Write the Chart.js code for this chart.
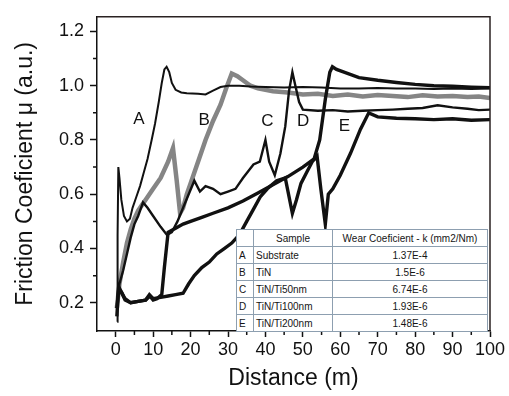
<!DOCTYPE html>
<html>
<head>
<meta charset="utf-8">
<script src="https://cdn.jsdelivr.net/npm/chart.js@4.4.1/dist/chart.umd.min.js"></script>
<style>
  html, body { margin: 0; padding: 0; background: #fff; }
  #wrap { position: relative; width: 509px; height: 396px; }
  #wear {
    position: absolute; left: 236px; top: 229px; width: 252px; height: 100px;
    border-collapse: collapse; background: #fff;
    font: 10px 'Liberation Sans', Arial, sans-serif; color: #151515;
    table-layout: fixed; border: 1px solid #555;
  }
  #wear td { border: 1px solid #8d9fb0; padding: 0 2px; height: 16px; white-space: nowrap; overflow: hidden; }
  #wear td:nth-child(3) { text-align: center; }
  #wear tr:first-child td:nth-child(2) { text-align: center; }
</style>
</head>
<body>
<div id="wrap">
  <canvas id="chart" width="509" height="396"></canvas>
  <table id="wear">
    <colgroup><col style="width:17px"><col style="width:79px"><col></colgroup>
    <tbody id="wearBody"></tbody>
  </table>
</div>
<script>
// Friction curves (distance in m, friction coefficient)
const distA = [0.4, 0.5, 0.7, 1.0, 1.5, 2.2, 3.0, 3.8, 4.5, 5.5, 6.5, 7.5, 8.5, 9.6, 10.5, 11.5, 12.3, 13.0, 13.6, 14.3, 15.0, 16.0, 17.5, 19, 22, 24, 26, 28, 30, 33, 36, 40, 45, 50, 55, 60, 65, 70, 75, 80, 85, 90, 95, 100];
const muA   = [0.13, 0.45, 0.70, 0.66, 0.58, 0.52, 0.50, 0.51, 0.55, 0.59, 0.63, 0.68, 0.73, 0.80, 0.86, 0.94, 1.01, 1.06, 1.07, 1.05, 1.01, 0.985, 0.975, 0.972, 0.97, 0.968, 0.982, 0.995, 1.0, 1.0, 0.997, 0.995, 0.993, 0.995, 0.993, 0.99, 0.99, 0.992, 0.99, 0.99, 0.988, 0.99, 0.988, 0.99];

const distB = [0.3, 1, 2, 3, 4, 5, 6, 7, 8, 10, 12, 14, 15.3, 16.3, 17.2, 18, 19, 20, 22, 24, 26, 28, 29.5, 31, 32.5, 34, 36, 38, 42, 46, 50, 54, 58, 62, 66, 70, 74, 78, 82, 86, 90, 94, 97, 100];
const muB   = [0.18, 0.27, 0.35, 0.42, 0.47, 0.51, 0.54, 0.56, 0.58, 0.62, 0.66, 0.72, 0.77, 0.65, 0.53, 0.55, 0.60, 0.64, 0.72, 0.80, 0.87, 0.93, 0.99, 1.045, 1.035, 1.02, 1.0, 0.99, 0.98, 0.975, 0.968, 0.97, 0.962, 0.968, 0.96, 0.966, 0.962, 0.958, 0.965, 0.96, 0.962, 0.958, 0.96, 0.955];

const distC = [0.5, 1, 2, 3, 4, 5, 6, 7.3, 8.5, 10, 12, 13.7, 15, 16.5, 18, 19.5, 21, 22.5, 24, 26, 28, 30, 32, 34, 36.8, 38.5, 40, 41, 42.5, 44, 45.3, 46.3, 47.2, 48, 49, 50, 54, 58, 62, 66, 70, 74, 78, 82, 86, 90, 94, 97, 100];
const muC   = [0.22, 0.27, 0.32, 0.38, 0.44, 0.49, 0.52, 0.57, 0.55, 0.52, 0.48, 0.45, 0.46, 0.50, 0.55, 0.60, 0.65, 0.61, 0.63, 0.62, 0.60, 0.61, 0.62, 0.66, 0.71, 0.72, 0.80, 0.72, 0.67, 0.75, 0.85, 0.98, 1.05, 1.0, 0.94, 0.912, 0.908, 0.91, 0.905, 0.908, 0.91, 0.912, 0.915, 0.918, 0.928, 0.92, 0.915, 0.91, 0.912];

const distD = [0.3, 0.8, 1.5, 2.5, 4, 6, 8, 9.1, 10, 11, 12.3, 13, 14, 16, 18, 20, 23, 26, 30, 34, 38, 42, 46, 50, 53, 54.5, 56, 57.2, 57.9, 59, 61, 65, 70, 75, 80, 85, 90, 95, 100];
const muD   = [0.18, 0.25, 0.24, 0.21, 0.20, 0.205, 0.21, 0.225, 0.21, 0.215, 0.23, 0.33, 0.46, 0.475, 0.49, 0.50, 0.515, 0.53, 0.55, 0.575, 0.605, 0.635, 0.665, 0.70, 0.73, 0.80, 0.95, 1.05, 1.07, 1.06, 1.05, 1.03, 1.02, 1.012, 1.005, 1.0, 0.998, 0.995, 0.993];

const distE = [0.3, 0.8, 1.5, 2.5, 4, 6, 8, 9, 10, 12, 14, 16, 18, 19.5, 21, 23, 25, 27, 29, 31, 33, 35, 37, 38.6, 40.5, 43, 45.3, 47.2, 48.3, 49.5, 51, 52.5, 53.8, 54.8, 56, 56.8, 58, 60, 62.7, 65.4, 67.6, 70, 75, 80, 85, 90, 95, 100];
const muE   = [0.15, 0.26, 0.24, 0.215, 0.20, 0.205, 0.21, 0.23, 0.215, 0.22, 0.225, 0.23, 0.235, 0.27, 0.30, 0.33, 0.35, 0.38, 0.40, 0.42, 0.45, 0.50, 0.55, 0.59, 0.62, 0.65, 0.66, 0.53, 0.58, 0.64, 0.68, 0.72, 0.74, 0.62, 0.49, 0.60, 0.62, 0.67, 0.75, 0.84, 0.90, 0.885, 0.88, 0.878, 0.875, 0.878, 0.873, 0.875];

// Curve letters placed on the plot
const curveLetters = ['A', 'B', 'C', 'D', 'E'];
const letterX = [6.2, 23.6, 40.5, 50.1, 61.1];
const letterY = [0.877, 0.874, 0.867, 0.867, 0.852];

// Inset table
const sampleIds = ['A', 'B', 'C', 'D', 'E'];
const sampleNames = ['Substrate', 'TiN', 'TiN/Ti50nm', 'TiN/Ti100nm', 'TiN/Ti200nm'];
const wearCoef = ['1.37E-4', '1.5E-6', '6.74E-6', '1.93E-6', '1.48E-6'];

// Axes
const xTickValues = [0, 10, 20, 30, 40, 50, 60, 70, 80, 90, 100];
const xMinorTicks = [5, 15, 25, 35, 45, 55, 65, 75, 85, 95];
const yTickValues = [0.2, 0.4, 0.6, 0.8, 1.0, 1.2];
const yMinorTicks = [0.3, 0.5, 0.7, 0.9, 1.1];

const FONT = "'Liberation Sans', Arial, sans-serif";

function pts(xs, ys) {
  return xs.map((x, i) => ({ x, y: ys[i] }));
}

// table rows
const tbody = document.getElementById('wearBody');
const head = document.createElement('tr');
['', 'Sample', 'Wear Coeficient - k (mm2/Nm)'].forEach(t => {
  const td = document.createElement('td');
  td.textContent = t;
  head.appendChild(td);
});
tbody.appendChild(head);
sampleIds.forEach((id, i) => {
  const tr = document.createElement('tr');
  [id, sampleNames[i], wearCoef[i]].forEach(t => {
    const td = document.createElement('td');
    td.textContent = t;
    tr.appendChild(td);
  });
  tbody.appendChild(tr);
});

const framePlugin = {
  id: 'frame',
  afterDraw(chart) {
    const { ctx, chartArea: a, scales: { x, y } } = chart;
    ctx.save();
    ctx.strokeStyle = '#2a2222';
    ctx.lineWidth = 1.5;
    ctx.beginPath();
    ctx.moveTo(a.left, a.top);
    ctx.lineTo(a.right, a.top);
    ctx.lineTo(a.right, a.bottom);
    ctx.stroke();

    // minor ticks
    ctx.strokeStyle = '#111';
    ctx.lineWidth = 1.5;
    ctx.beginPath();
    xMinorTicks.forEach(v => {
      const px = x.getPixelForValue(v);
      ctx.moveTo(px, a.bottom);
      ctx.lineTo(px, a.bottom + 4);
    });
    yMinorTicks.forEach(v => {
      const py = y.getPixelForValue(v);
      ctx.moveTo(a.left, py);
      ctx.lineTo(a.left - 4, py);
    });
    ctx.stroke();

    // curve letters
    ctx.fillStyle = '#111';
    ctx.font = '17px ' + FONT;
    ctx.textAlign = 'center';
    ctx.textBaseline = 'middle';
    curveLetters.forEach((t, i) => {
      ctx.fillText(t, x.getPixelForValue(letterX[i]), y.getPixelForValue(letterY[i]));
    });
    ctx.restore();
  },
};

const line = (data, color, width, order) => ({
  data,
  borderColor: color,
  borderWidth: width,
  pointRadius: 0,
  tension: 0,
  fill: false,
  order,
});

new Chart(document.getElementById('chart'), {
  type: 'line',
  data: {
    datasets: [
      line(pts(distA, muA), '#111', 2, 0),
      line(pts(distC, muC), '#111', 2.4, 0),
      line(pts(distD, muD), '#111', 3.4, 0),
      line(pts(distE, muE), '#111', 3.4, 0),
      line(pts(distB, muB), '#858585', 4.5, 1),
    ],
  },
  options: {
    responsive: false,
    animation: false,
    layout: { padding: { left: 0, top: 8, right: 19, bottom: 0 } },
    plugins: { legend: { display: false }, tooltip: { enabled: false } },
    scales: {
      x: {
        type: 'linear',
        min: -5,
        max: 100,
        afterBuildTicks: s => { s.ticks = xTickValues.map(v => ({ value: v })); },
        afterFit: s => { s.height = 65; },
        grid: { drawOnChartArea: false, tickLength: 6, tickWidth: 1.5, tickColor: '#111' },
        border: { display: true, color: '#111', width: 1.5 },
        ticks: { color: '#111', font: { family: FONT, size: 18 }, padding: 2, maxRotation: 0 },
        title: {
          display: true, text: 'Distance (m)', color: '#111',
          font: { family: FONT, size: 23 }, padding: { top: 0, bottom: 4 },
        },
      },
      y: {
        type: 'linear',
        min: 0.096,
        max: 1.254,
        afterBuildTicks: s => { s.ticks = yTickValues.map(v => ({ value: v })); },
        afterFit: s => { s.width = 97; },
        grid: { drawOnChartArea: false, tickLength: 7, tickWidth: 1.5, tickColor: '#111' },
        border: { display: true, color: '#111', width: 1.5 },
        ticks: {
          color: '#111', font: { family: FONT, size: 18 }, padding: 6,
          callback: v => v.toFixed(1),
        },
        title: {
          display: true, text: 'Friction Coeficient μ (a.u.)', color: '#111',
          font: { family: FONT, size: 23 }, padding: { top: 12, bottom: 0 },
        },
      },
    },
  },
  plugins: [framePlugin],
});
</script>
</body>
</html>
